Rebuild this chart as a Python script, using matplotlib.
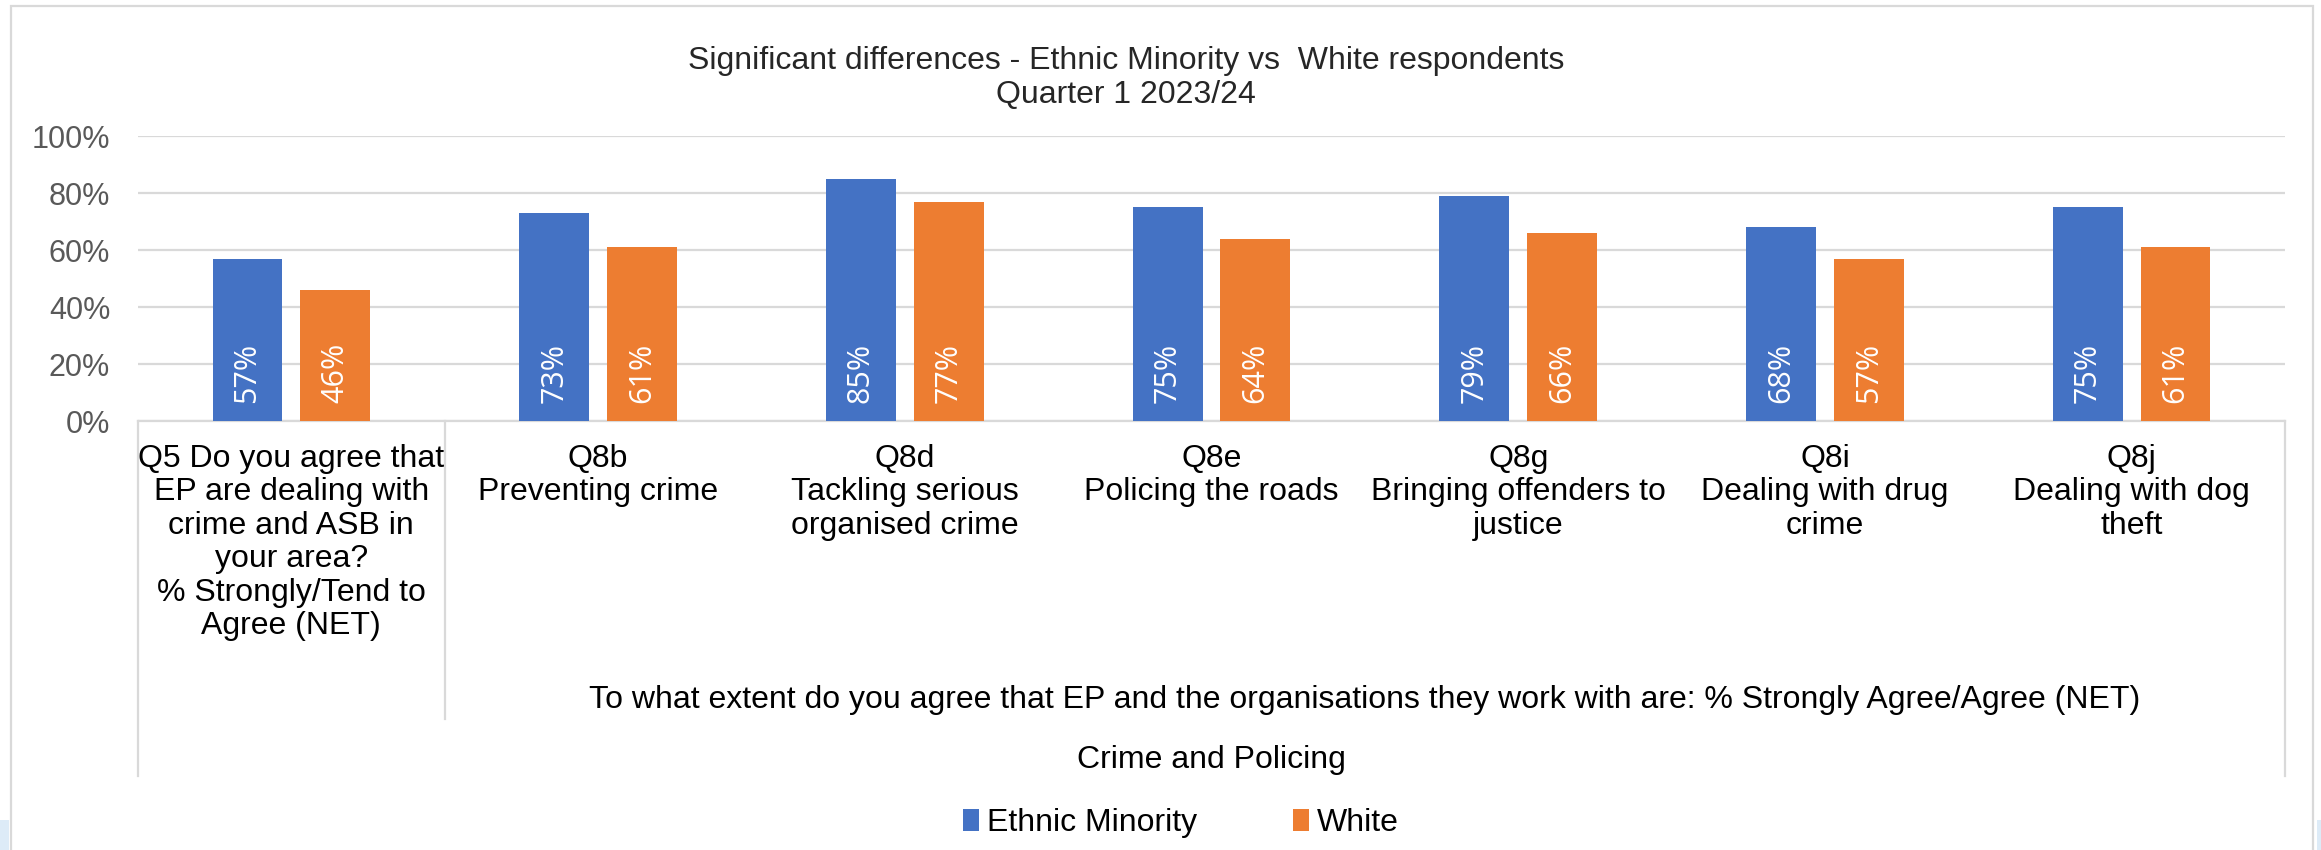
import matplotlib.pyplot as plt
import numpy as np
from matplotlib.patches import Rectangle
from matplotlib.ticker import PercentFormatter

# chart data
categories = [
	"Q5 Do you agree that\nEP are dealing with\ncrime and ASB in\nyour area?\n% Strongly/Tend to\nAgree (NET)",
	"Q8b\nPreventing crime",
	"Q8d\nTackling serious\norganised crime",
	"Q8e\nPolicing the roads",
	"Q8g\nBringing offenders to\njustice",
	"Q8i\nDealing with drug\ncrime",
	"Q8j\nDealing with dog\ntheft",
]
ethnic_minority = [57, 73, 85, 75, 79, 68, 75]
white = [46, 61, 77, 64, 66, 57, 61]
group_label = "To what extent do you agree that EP and the organisations they work with are: % Strongly Agree/Agree (NET)"
top_label = "Crime and Policing"
series_names = ["Ethnic Minority", "White"]

W, H = 2321, 850
BLUE, ORANGE, GRID = "#4472C4", "#ED7D31", "#D9D9D9"

plt.rcParams['font.family'] = ['Liberation Sans', 'DejaVu Sans']

fig = plt.figure(figsize=(W / 100, H / 100), dpi=100)
fig.patch.set_facecolor("white")

# axes in pixel terms: plot 138..2285 wide, 0% at y=421, 100% at y=136
ax = fig.add_axes([138 / W, 1 - 421 / H, (2285 - 138) / W, (421 - 136) / H])
x = np.arange(len(categories))
bw, off = 0.228, 0.143
b1 = ax.bar(x - off, ethnic_minority, width=bw, color=BLUE, label=series_names[0], zorder=3)
b2 = ax.bar(x + off, white, width=bw, color=ORANGE, label=series_names[1], zorder=3)

for bars, vals in ((b1, ethnic_minority), (b2, white)):
	for rect, v in zip(bars, vals):
		ax.annotate(f"{v}%", (rect.get_x() + rect.get_width() / 2, 0), xytext=(0, 13),
			textcoords="offset points", rotation=90, ha="center", va="bottom",
			color="white", fontsize=22, family=["Open Sans", "DejaVu Sans"], zorder=4)

ax.set_xlim(-0.5, len(categories) - 0.5)
ax.set_ylim(0, 100)
ax.yaxis.set_major_formatter(PercentFormatter(decimals=0))
ax.set_yticks(np.arange(0, 101, 20))
ax.tick_params(axis="y", length=0, pad=20, labelsize=22, labelcolor="#595959")
ax.set_xticks([])
ax.grid(axis="y", color=GRID, linewidth=1.6, zorder=0)
for s in ("left", "top", "right"):
	ax.spines[s].set_visible(False)
ax.spines["bottom"].set_color(GRID)
ax.spines["bottom"].set_linewidth(1.6)

# multi-level category axis
px = 421 - 136  # pixels per 100%
def ypx(p):
	return (421 - p) / px

tr = ax.get_xaxis_transform()
for i, lab in enumerate(categories):
	ax.text(i, ypx(444), lab, transform=tr, ha="center", va="top", fontsize=23,
		linespacing=1.15, color="black")
ax.text((1 + len(categories) - 1) / 2, ypx(700), group_label, transform=tr, ha="center",
	va="center", fontsize=23, color="black")
ax.text((len(categories) - 1) / 2, ypx(760), top_label, transform=tr, ha="center",
	va="center", fontsize=23, color="black")
for xs, yend in ((-0.5, 776), (0.5, 719), (len(categories) - 0.5, 776)):
	ax.plot([xs, xs], [0, ypx(yend)], transform=tr, color=GRID, lw=1.6, clip_on=False)

# title
fig.text(1126 / W, 1 - 78 / H, "Significant differences - Ethnic Minority vs  White respondents\nQuarter 1 2023/24",
	ha="center", va="center", fontsize=23, linespacing=1.15, color="#262626")

# legend
fig.legend(handles=[b1, b2], loc="center", bbox_to_anchor=(1181 / W, 1 - 823 / H), ncol=2,
	frameon=False, fontsize=23, handlelength=0.5, handleheight=0.7, handletextpad=0.25,
	columnspacing=3.0)

# chart border and window edges
fig.patches.append(Rectangle((11 / W, -0.02), (2313 - 11) / W, 1.02 - 6 / H, transform=fig.transFigure,
	fill=False, edgecolor=GRID, linewidth=1.6))
fig.patches.append(Rectangle((0, 0), 9 / W, 30 / H, transform=fig.transFigure,
	facecolor="#DDEBF7", edgecolor="none"))
fig.patches.append(Rectangle((2317 / W, 0), 4 / W, 30 / H, transform=fig.transFigure,
	facecolor="#DDEBF7", edgecolor="none"))

fig.savefig("out.png", dpi=100)
